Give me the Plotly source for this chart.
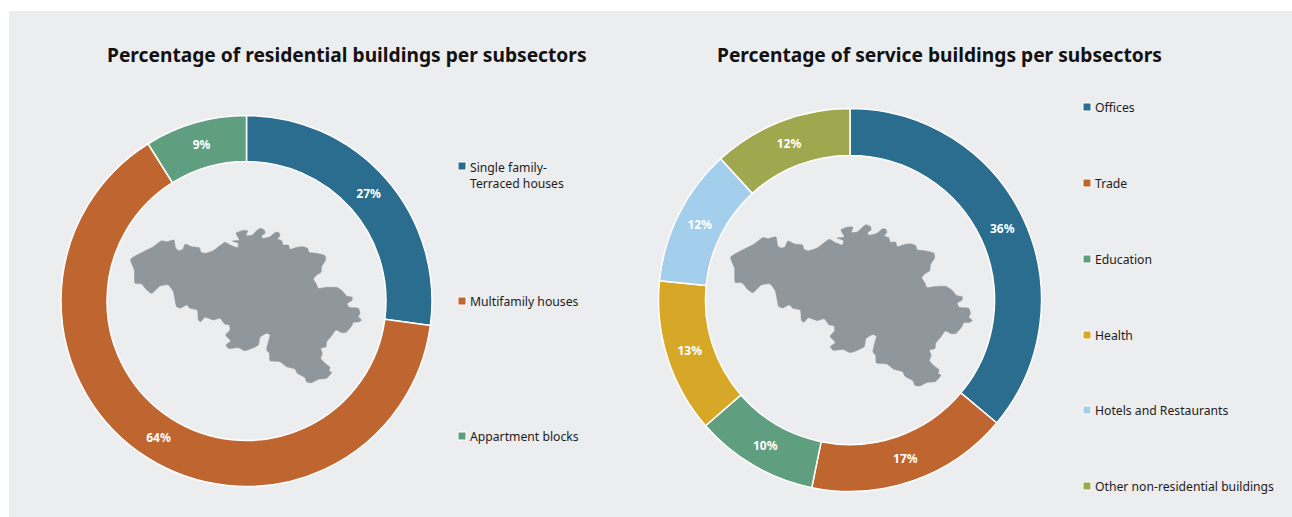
import plotly.graph_objects as go

# --- data ---
res_title = "Percentage of residential buildings per subsectors"
res_categories = ["Single family-<br>Terraced houses", "Multifamily houses", "Appartment blocks"]
res_values = [27.1, 64.0, 8.9]
res_colors = ["#2A6D8F", "#BF6530", "#5F9E7E"]

svc_title = "Percentage of service buildings per subsectors"
svc_categories = ["Offices", "Trade", "Education", "Health", "Hotels and Restaurants",
                  "Other non-residential buildings"]
svc_values = [36.1, 17.1, 10.4, 13.0, 11.6, 11.8]
svc_colors = ["#2A6D8F", "#BF6530", "#5F9E7E", "#D7A828", "#A3CEEC", "#A0A84F"]

# decorative outline of Belgium (3x-scaled tracing units)
outline_x = [62,130,155,170,192,197,207,218,226,245,268,273,285,310,345,360,383,385,367,388,378,395,413,408,425,437,450,463,465,455,458,480,497,507,510,502,515,520,535,540,560,580,593,597,620,645,647,635,633,620,610,618,625,650,680,697,710,727,725,712,717,745,750,745,755,745,730,725,708,695,678,665,650,648,632,637,632,645,660,657,665,650,625,605,590,585,562,555,530,510,480,478,470,475,480,470,450,445,405,385,355,348,362,347,360,358,345,330,310,285,272,265,262,240,230,212,200,190,175,150,125,110,95,75,73,62]
outline_y = [148,110,92,95,90,115,122,118,102,110,113,126,130,122,97,105,113,100,93,90,70,62,62,77,76,65,55,60,70,77,85,80,67,68,77,87,92,105,105,118,112,110,115,127,130,137,150,170,187,195,207,220,235,232,232,243,258,262,272,280,292,295,310,320,330,336,337,348,367,368,360,377,395,410,415,430,445,460,472,482,487,505,508,518,516,503,490,477,470,455,452,430,420,395,375,370,382,405,422,413,415,405,393,375,360,345,343,325,330,322,335,330,300,295,285,294,290,245,225,228,250,240,222,220,180,148]

# --- layout constants ---
W, H = 1292, 517
FONT = "Noto Sans"
PANEL = "#ECEDEF"
TEXT = "#1C1C1C"
MAP = "#8F969C"


def domain(cx, cy, r):
    return dict(x=[(cx - r) / W, (cx + r) / W], y=[1 - (cy + r) / H, 1 - (cy - r) / H])


def donut(values, colors, cats, cx, cy, r, hole):
    return go.Pie(
        values=values, labels=[c.replace("<br>", " ") for c in cats],
        marker=dict(colors=colors, line=dict(color="white", width=1.5)),
        hole=hole, sort=False, direction="clockwise", rotation=0,
        domain=domain(cx, cy, r), textinfo="percent", texttemplate="%{value:.0f}%",
        textposition="inside", insidetextorientation="horizontal",
        insidetextfont=dict(color="white", size=12, family=FONT, weight="bold"),
        showlegend=False,
    )


fig = go.Figure()

map_line = dict(color=MAP, width=0.5, shape="spline", smoothing=0.5)
fig.add_trace(go.Scatter(
    x=[110 + v / 3 for v in outline_x], y=[210 + v / 3 for v in outline_y],
    mode="lines", fill="toself", fillcolor=MAP, line=map_line,
    hoverinfo="skip", showlegend=False))
fig.add_trace(go.Scatter(
    x=[730.7 + (110 + v / 3 - 130.7) * 1.046 for v in outline_x],
    y=[224.7 + (210 + v / 3 - 228.3) * 1.045 for v in outline_y],
    mode="lines", fill="toself", fillcolor=MAP, line=map_line,
    hoverinfo="skip", showlegend=False))

fig.add_trace(donut(res_values, res_colors, res_categories, 246.5, 301, 185.5, 0.752))
fig.add_trace(donut(svc_values, svc_colors, svc_categories, 850, 300, 191.5, 0.755))

annotations = []
for txt, x, y in [(res_title, 347, 54.5), (svc_title, 939.5, 54.5)]:
    annotations.append(dict(text=f"<b>{txt}</b>", x=x, y=y, xref="x", yref="y", showarrow=False,
                            xanchor="center", yanchor="middle",
                            font=dict(family=FONT, size=19.2, color="#111111")))


def legend(cats, colors, x, text_ys, marker_ys):
    fig.add_trace(go.Scatter(
        x=[x] * len(cats), y=marker_ys, mode="markers", hoverinfo="skip", showlegend=False,
        marker=dict(symbol="square", size=8, color=colors, line=dict(color="white", width=1))))
    for c, y in zip(cats, text_ys):
        annotations.append(dict(text=c, x=x + 6, y=y, xref="x", yref="y", showarrow=False,
                                xanchor="left", yanchor="middle", align="left",
                                font=dict(family=FONT, size=12.2, color=TEXT)))


legend(res_categories, res_colors, 462, [175, 301, 436], [166, 301, 436])
svc_ys = [107, 183, 259, 335, 410, 486]
legend(svc_categories, svc_colors, 1087, svc_ys, svc_ys)

fig.update_layout(
    width=W, height=H, margin=dict(l=0, r=0, t=0, b=0, pad=0),
    paper_bgcolor="white", plot_bgcolor="rgba(0,0,0,0)",
    xaxis=dict(range=[0, W], visible=False, fixedrange=True, domain=[0, 1]),
    yaxis=dict(range=[H, 0], visible=False, fixedrange=True, domain=[0, 1]),
    shapes=[dict(type="rect", xref="x", yref="y", x0=9, x1=1292, y0=11, y1=517,
                 fillcolor=PANEL, line=dict(width=0), layer="below")],
    annotations=annotations,
)

fig.write_html("out.html", config=dict(displayModeBar=False),
               post_script="document.body.style.margin='0';document.body.style.overflow='hidden';")
